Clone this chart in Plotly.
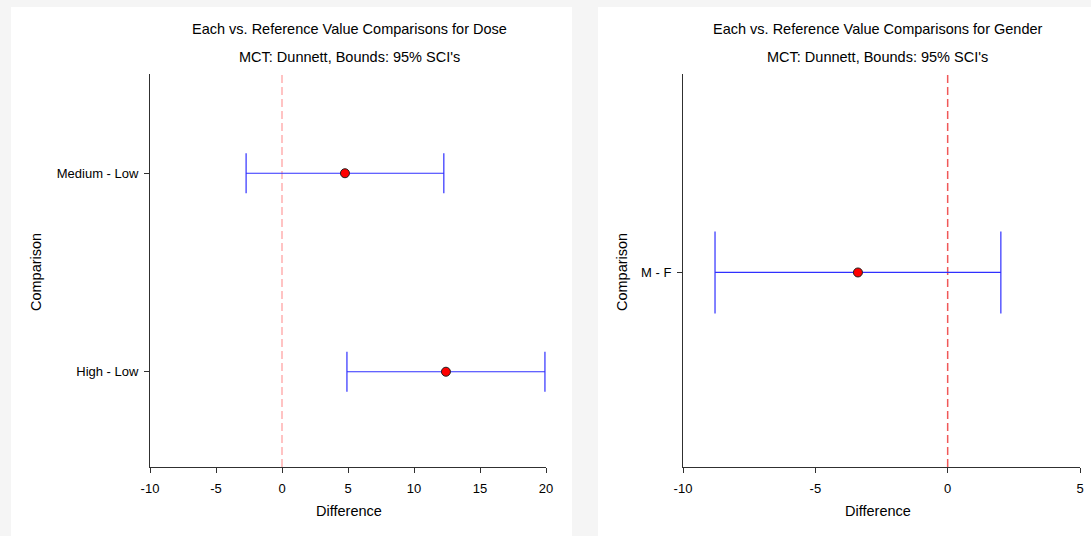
import plotly.graph_objects as go

# Dunnett each-vs-reference comparisons (difference and 95% simultaneous CI)
dose_labels = ["High - Low", "Medium - Low"]
dose_diff = [12.42, 4.77]
dose_lower = [4.92, -2.72]
dose_upper = [19.92, 12.26]
dose_xticks = [-10, -5, 0, 5, 10, 15, 20]

gender_labels = ["M - F"]
gender_diff = [-3.39]
gender_lower = [-8.79]
gender_upper = [2.01]
gender_xticks = [-10, -5, 0, 5]

W, H = 1091, 536
FONT = "Arial, Liberation Sans, sans-serif"


def px_x(p):
    return p / W


def px_y(p):
    return 1 - p / H


fig = go.Figure()

# left panel: dose
fig.add_trace(go.Scatter(
    x=dose_diff, y=list(range(len(dose_labels))),
    mode="markers",
    marker=dict(color="#ff0000", size=9, line=dict(color="#202020", width=1)),
    error_x=dict(type="data", symmetric=False,
                 array=[u - d for u, d in zip(dose_upper, dose_diff)],
                 arrayminus=[d - l for d, l in zip(dose_diff, dose_lower)],
                 color="#3030ff", thickness=1.2, width=20),
    xaxis="x", yaxis="y", showlegend=False, hoverinfo="x+y",
))

# right panel: gender
fig.add_trace(go.Scatter(
    x=gender_diff, y=list(range(len(gender_labels))),
    mode="markers",
    marker=dict(color="#ff0000", size=9, line=dict(color="#202020", width=1)),
    error_x=dict(type="data", symmetric=False,
                 array=[u - d for u, d in zip(gender_upper, gender_diff)],
                 arrayminus=[d - l for d, l in zip(gender_diff, gender_lower)],
                 color="#3030ff", thickness=1.2, width=41),
    xaxis="x2", yaxis="y2", showlegend=False, hoverinfo="x+y",
))

plot_top, plot_bottom = 74, 467
ydom = [px_y(plot_bottom), px_y(plot_top)]

axis_common = dict(
    showline=True, linecolor="#303030", linewidth=1,
    showgrid=False, zeroline=False, automargin=False,
    ticks="outside", ticklen=5, tickcolor="#303030", tickwidth=1,
    tickfont=dict(family=FONT, size=13, color="#000000"),
)
xaxis_extra = dict(ticklabelstandoff=4)
yaxis_extra = dict(ticklen=5, ticklabelstandoff=3)

fig.update_layout(
    width=W, height=H,
    margin=dict(l=0, r=0, t=0, b=0),
    paper_bgcolor="#f5f5f5", plot_bgcolor="rgba(0,0,0,0)",
    font=dict(family=FONT, color="#000000"),
    xaxis=dict(domain=[px_x(150), px_x(546)], range=[-10, 20],
               tickvals=dose_xticks, ticktext=[str(v) for v in dose_xticks],
               anchor="y", **axis_common, **xaxis_extra),
    yaxis=dict(domain=ydom, range=[-0.48, 1.5],
               tickvals=list(range(len(dose_labels))), ticktext=dose_labels,
               anchor="x", **{**axis_common, **yaxis_extra}),
    xaxis2=dict(domain=[px_x(683), px_x(1080)], range=[-10, 5],
                tickvals=gender_xticks, ticktext=[str(v) for v in gender_xticks],
                anchor="y2", **axis_common, **xaxis_extra),
    yaxis2=dict(domain=ydom, range=[-0.99, 1.01],
                tickvals=list(range(len(gender_labels))), ticktext=gender_labels,
                anchor="x2", **{**axis_common, **yaxis_extra}),
)

shapes = [
    # white panel backgrounds
    dict(type="rect", xref="paper", yref="paper", layer="below",
         x0=px_x(11), x1=px_x(572), y0=0, y1=px_y(7),
         fillcolor="#ffffff", line=dict(width=0)),
    dict(type="rect", xref="paper", yref="paper", layer="below",
         x0=px_x(598), x1=1, y0=0, y1=px_y(7),
         fillcolor="#ffffff", line=dict(width=0)),
    # reference line at zero difference
    dict(type="line", xref="x", yref="paper", x0=0, x1=0,
         y0=ydom[0], y1=ydom[1], layer="below",
         line=dict(color="#ffb0b0", width=1.5, dash="8px,4px")),
    dict(type="line", xref="x2", yref="paper", x0=0, x1=0,
         y0=ydom[0], y1=ydom[1], layer="below",
         line=dict(color="#f05858", width=1.5, dash="8px,4px")),
]
fig.update_layout(shapes=shapes)

annotations = []
for cx, name, ytitle_x in [(349, "Dose", 36), (878, "Gender", 622)]:
    annotations += [
        dict(text=f"Each vs. Reference Value Comparisons for {name}",
             x=px_x(cx), y=px_y(29), xref="paper", yref="paper",
             showarrow=False, xanchor="center", yanchor="middle",
             font=dict(family=FONT, size=14.5, color="#000000")),
        dict(text="MCT: Dunnett, Bounds: 95% SCI's",
             x=px_x(cx), y=px_y(57), xref="paper", yref="paper",
             showarrow=False, xanchor="center", yanchor="middle",
             font=dict(family=FONT, size=14.5, color="#000000")),
        dict(text="Difference",
             x=px_x(cx), y=px_y(511), xref="paper", yref="paper",
             showarrow=False, xanchor="center", yanchor="middle",
             font=dict(family=FONT, size=14.5, color="#000000")),
        dict(text="Comparison", textangle=-90,
             x=px_x(ytitle_x), y=px_y(272), xref="paper", yref="paper",
             showarrow=False, xanchor="center", yanchor="middle",
             font=dict(family=FONT, size=14.5, color="#000000")),
    ]
fig.update_layout(annotations=annotations)

fig.write_html("out.html")
